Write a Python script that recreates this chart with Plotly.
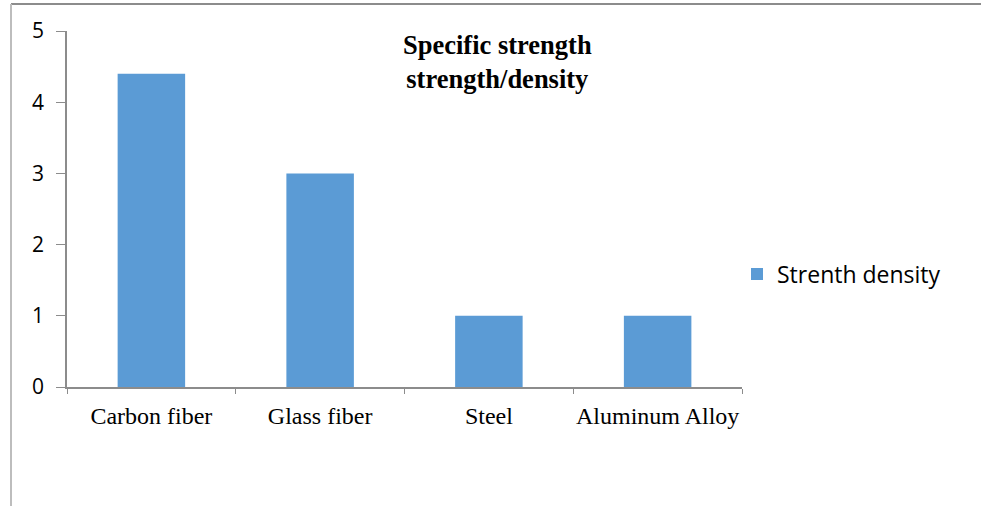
import plotly.graph_objects as go

categories = ["Carbon fiber", "Glass fiber", "Steel", "Aluminum Alloy"]
values = [4.4, 3.0, 1.0, 1.0]
series_name = "Strenth density"
title_lines = ["Specific strength", "strength/density"]

W, H = 981, 506
L, R, T, B = 67, 742, 31, 387
pw, ph = R - L, B - T

def px_x(x):
    return (x - L) / pw

def px_y(y):
    return (B - y) / ph

fig = go.Figure()
fig.add_trace(go.Bar(
    x=categories, y=values, name=series_name,
    marker=dict(color="#5B9BD5", line=dict(width=0)),
    width=0.4, showlegend=True,
))

fig.update_layout(
    width=W, height=H,
    margin=dict(l=L, r=W - R, t=T, b=H - B, pad=0, autoexpand=False),
    paper_bgcolor="white", plot_bgcolor="white",
    showlegend=True,
    legend=dict(x=px_x(737), y=px_y(274), xanchor="left", yanchor="middle",
                font=dict(family="Open Sans, Noto Sans, sans-serif", size=23, color="#000"),
                bgcolor="rgba(0,0,0,0)", itemsizing="constant"),
    xaxis=dict(
        range=[-0.5, 3.5], showline=True, linecolor="#8c8c8c", linewidth=1.5,
        ticks="outside", ticklen=5, tickcolor="#8c8c8c", tickson="boundaries",
        showgrid=False, zeroline=False, tickangle=0, automargin=False,
        tickfont=dict(family="Liberation Serif, Times New Roman, serif", size=24, color="#000"),
        ticklabelstandoff=6,
    ),
    yaxis=dict(
        range=[0, 5], dtick=1, showline=True, linecolor="#8c8c8c", linewidth=1.5,
        ticks="outside", ticklen=9, tickcolor="#8c8c8c",
        showgrid=False, zeroline=False, automargin=False,
        tickfont=dict(family="Open Sans, Noto Sans, sans-serif", size=21, color="#000"),
        ticklabelstandoff=8,
    ),
    bargap=0.6,
)

fig.add_annotation(
    text="<b>" + "<br>".join(title_lines) + "</b>",
    xref="paper", yref="paper", x=px_x(497), y=px_y(62),
    xanchor="center", yanchor="middle", showarrow=False,
    font=dict(family="Liberation Serif, Times New Roman, serif", size=26.5, color="#000"),
    align="center",
)

# chart-area border (top and left visible)
fig.add_shape(type="line", xref="paper", yref="paper",
              x0=px_x(11), x1=px_x(981), y0=px_y(4), y1=px_y(4),
              line=dict(color="#8c8c8c", width=2))
fig.add_shape(type="line", xref="paper", yref="paper",
              x0=px_x(11), x1=px_x(11), y0=px_y(4), y1=px_y(506),
              line=dict(color="#bdbdbd", width=2))

fig.write_html("out.html", config={"displayModeBar": False},
               post_script="document.body.style.margin='0';document.body.style.padding='0';")
